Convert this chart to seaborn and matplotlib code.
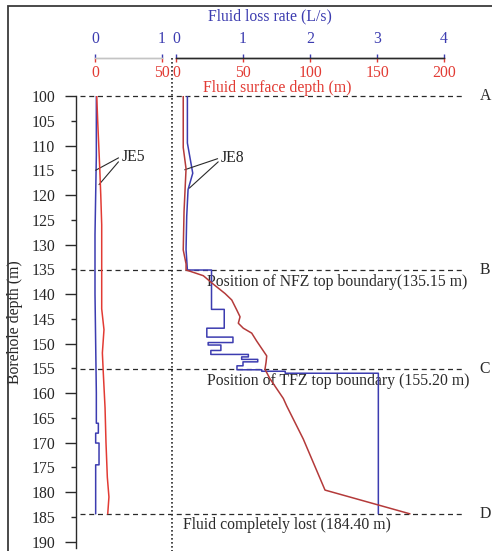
import matplotlib
matplotlib.use("Agg")
import matplotlib.pyplot as plt
import matplotlib.transforms as mtransforms
from matplotlib.lines import Line2D
from matplotlib.patches import Rectangle
import seaborn as sns

# ------------------------------------------------------------
# Data
# ------------------------------------------------------------
# JE5: fluid loss rate (L/s) vs borehole depth (m)
je5_rate_depth = [100, 112, 120, 128, 140, 150, 160, 166.1, 166.1, 168.1, 168.1,
                  170.1, 170.1, 174.5, 174.5, 184.4]
je5_rate = [0.02, 0.02, 0.01, 0.0, 0.0, 0.01, 0.02, 0.02, 0.05, 0.05, 0.01,
            0.01, 0.06, 0.06, 0.01, 0.01]

# JE5: fluid surface depth (m) vs borehole depth (m)
je5_surf_depth = [100, 105, 110, 115, 120, 126, 135, 143, 147.2, 151.9, 156,
                  163, 170, 177, 181, 184.4]
je5_surf = [1.3, 2.0, 2.8, 3.6, 4.3, 5.0, 5.0, 5.0, 6.7, 5.5, 6.2,
            7.5, 8.2, 9.2, 10.4, 9.5]

# JE8: fluid loss rate (L/s) vs borehole depth (m)
je8_rate_depth = [100, 109.5, 115.6, 118.9, 124.3, 131, 135.15, 135.15, 143.1,
                  143.1, 146.9, 146.9, 148.7, 148.7, 149.8, 149.8, 150.3, 150.3,
                  151.4, 151.4, 152.2, 152.2, 152.7, 152.7, 153.2, 153.2, 153.7,
                  153.7, 154.5, 154.5, 155.3, 155.3, 155.6, 155.6, 156.0, 156.0,
                  184.4]
je8_rate = [0.17, 0.17, 0.25, 0.18, 0.16, 0.15, 0.17, 0.53, 0.53,
            0.72, 0.72, 0.46, 0.46, 0.85, 0.85, 0.48, 0.48, 0.67,
            0.67, 0.52, 0.52, 1.08, 1.08, 0.98, 0.98, 1.22, 1.22,
            1.0, 1.0, 0.91, 0.91, 1.28, 1.28, 1.63, 1.63, 3.02,
            3.02]

# JE8: fluid surface depth (m) vs borehole depth (m)
je8_surf_depth = [100, 110.4, 114.7, 123.3, 131.1, 133.9, 135.15, 135.4, 136.3,
                  138.0, 139.9, 141.2, 143.2, 144.6, 145.9, 146.9, 147.9, 149.5,
                  150.5, 152.5, 153.8, 155.2, 157.1, 159.1, 161.1, 162.6, 169.3,
                  179.6, 184.4]
je8_surf = [5.4, 5.4, 7.5, 6.0, 5.4, 7.5, 7.5, 10.5, 20.4,
            27.8, 36.6, 41.6, 45.3, 47.8, 46.5, 50.2, 56.5, 60.2,
            62.7, 67.7, 67.2, 66.4, 70.1, 75.1, 80.1, 82.6, 95.0,
            111.2, 174.6]

boundary_depths = [100, 135.15, 155.20, 184.40]
boundary_names = ["A", "B", "C", "D"]
boundary_notes = {135.15: "Position of NFZ top boundary(135.15 m)",
                  155.20: "Position of TFZ top boundary (155.20 m)",
                  184.40: "Fluid completely lost (184.40 m)"}

depth_ticks = list(range(100, 191, 5))
left_rate_ticks, left_surf_ticks = [0, 1], [0, 50]
right_rate_ticks, right_surf_ticks = [0, 1, 2, 3, 4], [0, 50, 100, 150, 200]

BLUE = "#3c3cb0"
RED = "#e23b34"
RED_DARK = "#b43a3a"
INK = "#2a2a2a"
FS = 11.3

# ------------------------------------------------------------
# Layout (pixel based, 492 x 551)
# ------------------------------------------------------------
sns.set_style("white")
plt.rcParams["font.family"] = ["Liberation Serif", "DejaVu Serif"]
plt.rcParams["font.size"] = FS

W, H = 492, 551
fig = plt.figure(figsize=(W / 100, H / 100), dpi=100)

top_px, bot_px = 96, 548
ylim = (191.3, 100)
PX_PER_UNIT = 67.0


def fig_rect(x0, x1):
    return [x0 / W, 1 - bot_px / H, (x1 - x0) / W, (bot_px - top_px) / H]


# base axes: depth axis, boundary lines and notes
base = fig.add_axes(fig_rect(76, 470))
base.set_facecolor("none")
base.set_ylim(*ylim)
base.set_xlim(0, 1)
for s in ["top", "right", "bottom"]:
    base.spines[s].set_visible(False)
base.spines["left"].set_color(INK)
base.spines["left"].set_linewidth(1.0)
base.set_xticks([])
base.set_yticks([t for t in depth_ticks if t % 10 == 0])
base.set_yticks([t for t in depth_ticks if t % 10 != 0], minor=True)
base.set_yticklabels([str(t) for t in depth_ticks if t % 10 == 0])
base.set_yticklabels([str(t) for t in depth_ticks if t % 10 != 0], minor=True)
base.tick_params(axis="y", which="both", left=True)
base.tick_params(axis="y", which="major", length=8, width=1, pad=7, color=INK, labelsize=FS)
base.tick_params(axis="y", which="minor", length=3.6, width=1, pad=11.3, color=INK, labelsize=FS)
base.set_ylabel("Borehole depth (m)", fontsize=FS)
base.yaxis.set_label_coords(-0.135, 0.5)

trans = mtransforms.blended_transform_factory(base.transAxes, base.transData)
for d, name in zip(boundary_depths, boundary_names):
    base.plot([0.01, 0.987], [d, d], transform=trans, color=INK, lw=0.9,
              ls=(0, (4, 3)), clip_on=False)
    base.text(1.025, d, name, transform=trans, ha="left", va="center",
              fontsize=FS, color=INK, clip_on=False)
for d, note in boundary_notes.items():
    x0 = 0.272 if d == 184.40 else 0.333
    base.text(x0, d + 2.35, note, transform=trans, ha="left", va="center",
              fontsize=FS, color=INK)

# separator between the two wells
fig.add_artist(Line2D([171.5 / W] * 2, [1 - 58 / H, 0], transform=fig.transFigure,
                      color=INK, lw=1.2, ls=(0, (1, 1.4))))
# outer frame
fig.add_artist(Rectangle((8 / W, -0.1), 1.2, 1 - 6 / H + 0.1, transform=fig.transFigure,
                         fill=False, ec="#3a3a3a", lw=1.3))


def make_panel(x0, x1, zero_px, rate_ticks, surf_ticks, spine_color):
    ax = fig.add_axes(fig_rect(x0, x1))
    ax.set_facecolor("none")
    ax.set_xlim((x0 - zero_px) / PX_PER_UNIT, (x1 - zero_px) / PX_PER_UNIT)
    ax.set_ylim(*ylim)
    ax2 = ax.twiny()
    ax2.set_xlim(ax.get_xlim()[0] * 50, ax.get_xlim()[1] * 50)
    ax2.set_ylim(*ylim)
    off = 1 + 38 / (bot_px - top_px)
    for a in (ax, ax2):
        for s in a.spines.values():
            s.set_visible(False)
        a.set_yticks([])
        a.grid(False)
    # blue scale, ticks pointing up
    ax.xaxis.tick_top()
    ax.spines["top"].set_visible(True)
    ax.spines["top"].set_position(("axes", off))
    ax.spines["top"].set_bounds(rate_ticks[0], rate_ticks[-1])
    ax.spines["top"].set_color(spine_color)
    ax.spines["top"].set_linewidth(1.0)
    ax.set_xticks(rate_ticks)
    ax.tick_params(axis="x", top=True, direction="out", length=3.2, width=1, color=BLUE,
                   labelcolor=BLUE, pad=5, labelsize=FS)
    # red scale, ticks pointing down
    ax2.xaxis.tick_bottom()
    ax2.spines["bottom"].set_visible(True)
    ax2.spines["bottom"].set_position(("axes", off))
    ax2.spines["bottom"].set_bounds(surf_ticks[0], surf_ticks[-1])
    ax2.spines["bottom"].set_color(spine_color)
    ax2.spines["bottom"].set_linewidth(1.0)
    ax2.set_xticks(surf_ticks)
    ax2.tick_params(axis="x", bottom=True, direction="out", length=3.2, width=1, color=RED,
                    labelcolor=RED, pad=2.0, labelsize=FS)
    return ax, ax2


ax_l, ax_l2 = make_panel(80, 170, 95, left_rate_ticks, left_surf_ticks, "#c4c4c4")
ax_r, ax_r2 = make_panel(172, 470, 176, right_rate_ticks, right_surf_ticks, INK)

sns.lineplot(x=je5_rate, y=je5_rate_depth, sort=False, estimator=None,
             ax=ax_l, color=BLUE, lw=1.1)
sns.lineplot(x=je5_surf, y=je5_surf_depth, sort=False, estimator=None,
             ax=ax_l2, color=RED, lw=1.1)
sns.lineplot(x=je8_rate, y=je8_rate_depth, sort=False, estimator=None,
             ax=ax_r, color=BLUE, lw=1.1)
sns.lineplot(x=je8_surf, y=je8_surf_depth, sort=False, estimator=None,
             ax=ax_r2, color=RED_DARK, lw=1.1)
for a in (ax_l, ax_l2, ax_r, ax_r2):
    a.set_xlabel("")
    a.set_ylabel("")
    a.set_ylim(*ylim)

# well labels with leader lines
lead = dict(arrowstyle="-", color=INK, lw=0.8, shrinkA=0, shrinkB=0)
ax_l.annotate("JE5", xy=(0.01, 115.0), xytext=(0.40, 112.3), ha="left", va="center",
              fontsize=FS, arrowprops=dict(lead, relpos=(0, 0.55)))
ax_l.annotate("", xy=(0.06, 117.9), xytext=(0.35, 113.3), arrowprops=lead)
ax_r.annotate("JE8", xy=(0.13, 114.9), xytext=(0.67, 112.6), ha="left", va="center",
              fontsize=FS, arrowprops=dict(lead, relpos=(0, 0.55)))
ax_r.annotate("", xy=(0.2, 118.6), xytext=(0.63, 113.3), arrowprops=lead)

# axis titles
fig.text(270 / W, 1 - 16 / H, "Fluid loss rate (L/s)", color=BLUE, ha="center",
         va="center", fontsize=FS)
fig.text(277 / W, 1 - 88 / H, "Fluid surface depth (m)", color=RED, ha="center",
         va="center", fontsize=FS)

fig.savefig("out.png", dpi=100)
